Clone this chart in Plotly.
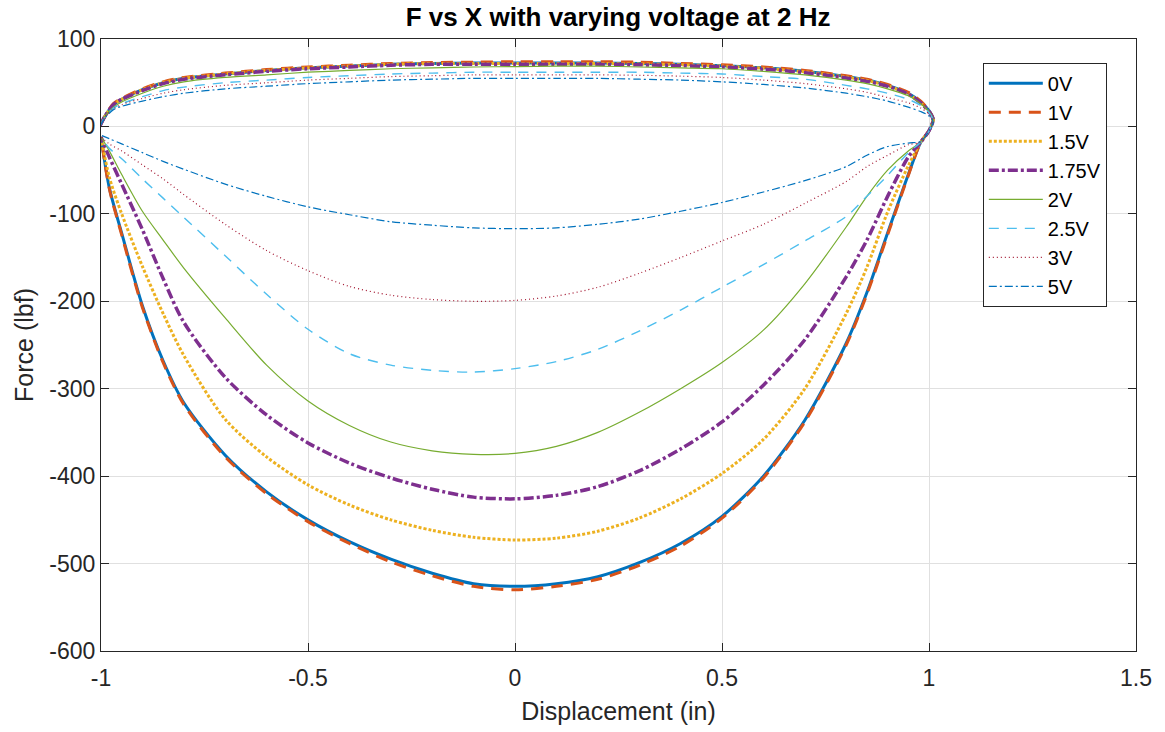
import plotly.graph_objects as go

# ---- data ----
labels = ["0V", "1V", "1.5V", "1.75V", "2V", "2.5V", "3V", "5V"]

# upper (return) branch, x from left cusp to right turnaround
x_up = [-1.003, -0.99, -0.97, -0.95, -0.9, -0.85, -0.8, -0.7, -0.6, -0.5, -0.4, -0.3,
        -0.2, -0.1, 0.0, 0.1, 0.2, 0.3, 0.4, 0.5, 0.6, 0.7, 0.8, 0.85, 0.9, 0.95,
        0.98, 1.0, 1.01, 1.0]
# lower (compression) branch, x from right cusp back to left cusp
x_dn = [0.98, 0.95, 0.9, 0.85, 0.8, 0.7, 0.6, 0.5, 0.4, 0.3, 0.2, 0.1, 0.0, -0.1,
        -0.2, -0.3, -0.4, -0.5, -0.6, -0.7, -0.8, -0.85, -0.9, -0.95, -0.98, -1.0]

f_up_0v = [0, 12, 25, 31, 42, 50, 55, 60, 64, 67, 69, 71, 72, 72.5, 72.5, 72.5, 72.5,
           72, 71, 69.5, 67, 63, 57, 53, 47, 38, 28, 18, 8, -5]
f_dn_0v = [-18, -55, -122, -190, -248, -336, -400, -446, -477, -499, -515, -523, -526,
           -523, -511, -495, -475, -450, -418, -376, -316, -268, -205, -122, -70, -12]

f_up_1v = [0, 12, 26, 32, 43, 51, 56, 61, 65, 68, 70, 72, 73, 73.5, 74, 74, 74, 73.5,
           72, 70.5, 68, 64, 58, 54, 48, 39, 29, 18, 8, -5]
f_dn_1v = [-18, -56, -124, -192, -250, -338, -402, -448, -480, -502, -518, -526, -530,
           -526, -514, -498, -477, -452, -420, -378, -318, -270, -207, -124, -71, -12]

f_up_15v = [0, 12, 25, 31, 42, 50, 55, 60, 64, 67, 69, 71, 72, 72, 72, 72, 72, 71.5,
            70.5, 69, 66.5, 62.5, 56.5, 52.5, 46.5, 37, 27, 17, 8, -5]
f_dn_15v = [-18, -45, -98, -161, -214, -300, -358, -397, -426, -448, -463, -471, -473,
            -470, -462, -450, -433, -410, -378, -335, -262, -214, -160, -100, -58, -12]

f_up_175v = [0, 12, 25, 31, 41, 49, 54, 59, 63, 66, 68, 70, 71, 71, 71, 71, 71, 70.5,
             69.5, 68, 65.5, 61.5, 55.5, 51.5, 46, 37, 27, 17, 8, -5]
f_dn_175v = [-18, -35, -80, -130, -172, -244, -296, -338, -369, -394, -412, -422, -426,
             -424, -415, -402, -385, -362, -330, -287, -224, -174, -118, -66, -35, -12]

f_up_2v = [0, 12, 22, 28, 38, 46, 51, 56, 59, 62, 64, 66, 67, 68, 68.5, 69, 69, 68,
           67, 66, 63, 59, 53, 49, 43, 35, 26, 17, 8, -5]
f_dn_2v = [-18, -28, -50, -80, -115, -180, -233, -270, -300, -327, -350, -366, -374,
           -375, -371, -361, -342, -314, -273, -219, -162, -130, -97, -55, -28, -12]

f_up_25v = [0, 11, 21, 26, 34, 41, 45, 50, 53, 56, 58, 60, 61, 62, 62, 62, 62, 62,
            61, 60, 57, 54, 47, 43, 38, 31, 24, 16, 7, -5]
f_dn_25v = [-18, -30, -56, -80, -103, -131, -158, -184, -210, -234, -255, -269, -277,
            -281, -279, -273, -260, -232, -192, -148, -104, -82, -60, -37, -25, -12]

f_up_3v = [0, 11, 20, 25, 32, 38, 42, 47, 50, 53, 55, 57, 58, 59, 59, 59, 59, 58.5,
           57.5, 56, 53, 49, 43, 39, 33, 27, 21, 14, 6, -5]
f_dn_3v = [-18, -21, -33, -46, -63, -88, -112, -131, -150, -168, -184, -194, -199,
           -200, -198, -193, -183, -165, -142, -112, -78, -60, -44, -28, -20, -12]

f_up_5v = [0, 10, 19, 23, 29, 34, 38, 43, 46, 49, 51, 53, 54, 55, 55, 55, 55, 54,
           53, 51, 48, 44, 38, 34, 29, 22, 17, 12, 5, -5]
f_dn_5v = [-17, -19, -23, -33, -46, -62, -75, -87, -97, -106, -112, -116, -117, -116,
           -113, -109, -101, -92, -80, -66, -49, -40, -30, -20, -14, -10]

x_ticks = [-1, -0.5, 0, 0.5, 1, 1.5]
y_ticks = [100, 0, -100, -200, -300, -400, -500, -600]

# ---- styles ----
ups = [f_up_0v, f_up_1v, f_up_15v, f_up_175v, f_up_2v, f_up_25v, f_up_3v, f_up_5v]
dns = [f_dn_0v, f_dn_1v, f_dn_15v, f_dn_175v, f_dn_2v, f_dn_25v, f_dn_3v, f_dn_5v]
colors = ["#0072BD", "#D95319", "#EDB120", "#7E2F8E", "#77AC30", "#4DBEEE", "#A2142F", "#0072BD"]
dashes = ["solid", "12px,8px", "3px,2px", "10px,3px,3px,3px", "solid", "10px,8px", "1px,3px", "8px,3px,2px,3px"]
widths = [3, 3, 3, 3.5, 1.2, 1.4, 1.2, 1.2]

FONT = "Liberation Sans, Arial, sans-serif"

fig = go.Figure()
for lab, fu, fd, c, d, w in zip(labels, ups, dns, colors, dashes, widths):
    xs = x_up + x_dn
    ys = fu + fd
    fig.add_trace(go.Scatter(
        x=xs, y=ys, mode="lines", name=lab,
        line=dict(color=c, dash=d, width=w, shape="spline", smoothing=0.8),
    ))

axis_common = dict(
    showline=True, linecolor="#262626", linewidth=1, mirror="ticks",
    ticks="inside", ticklen=8, tickcolor="#262626",
    showgrid=True, gridcolor="#e0e0e0", gridwidth=1,
    zeroline=False,
    tickfont=dict(family=FONT, size=23, color="#262626"),
)

fig.update_layout(
    width=1165, height=732,
    margin=dict(l=101, r=29, t=39, b=81),
    paper_bgcolor="white", plot_bgcolor="white",
    title=dict(text="<b>F vs X with varying voltage at 2 Hz</b>", x=0.5305, xanchor="center",
               y=1 - 17 / 732, yanchor="middle",
               font=dict(family=FONT, size=26, color="black")),
    xaxis=dict(range=[-1, 1.5], tickvals=x_ticks, ticktext=[str(v) for v in x_ticks],
               ticklabelstandoff=6,
               title=dict(text="Displacement (in)", standoff=12,
                          font=dict(family=FONT, size=25, color="#262626")),
               **axis_common),
    yaxis=dict(range=[-600, 100], tickvals=y_ticks, ticktext=[str(v) for v in y_ticks],
               title=dict(text="Force (lbf)", standoff=8,
                          font=dict(family=FONT, size=25, color="#262626")),
               **axis_common),
    legend=dict(x=0.852, y=0.961, xanchor="left", yanchor="top",
                bgcolor="white", bordercolor="#262626", borderwidth=1,
                font=dict(family=FONT, size=20, color="black"),
                itemwidth=54, tracegroupgap=0),
    showlegend=True,
)

fig.write_html("out.html")
